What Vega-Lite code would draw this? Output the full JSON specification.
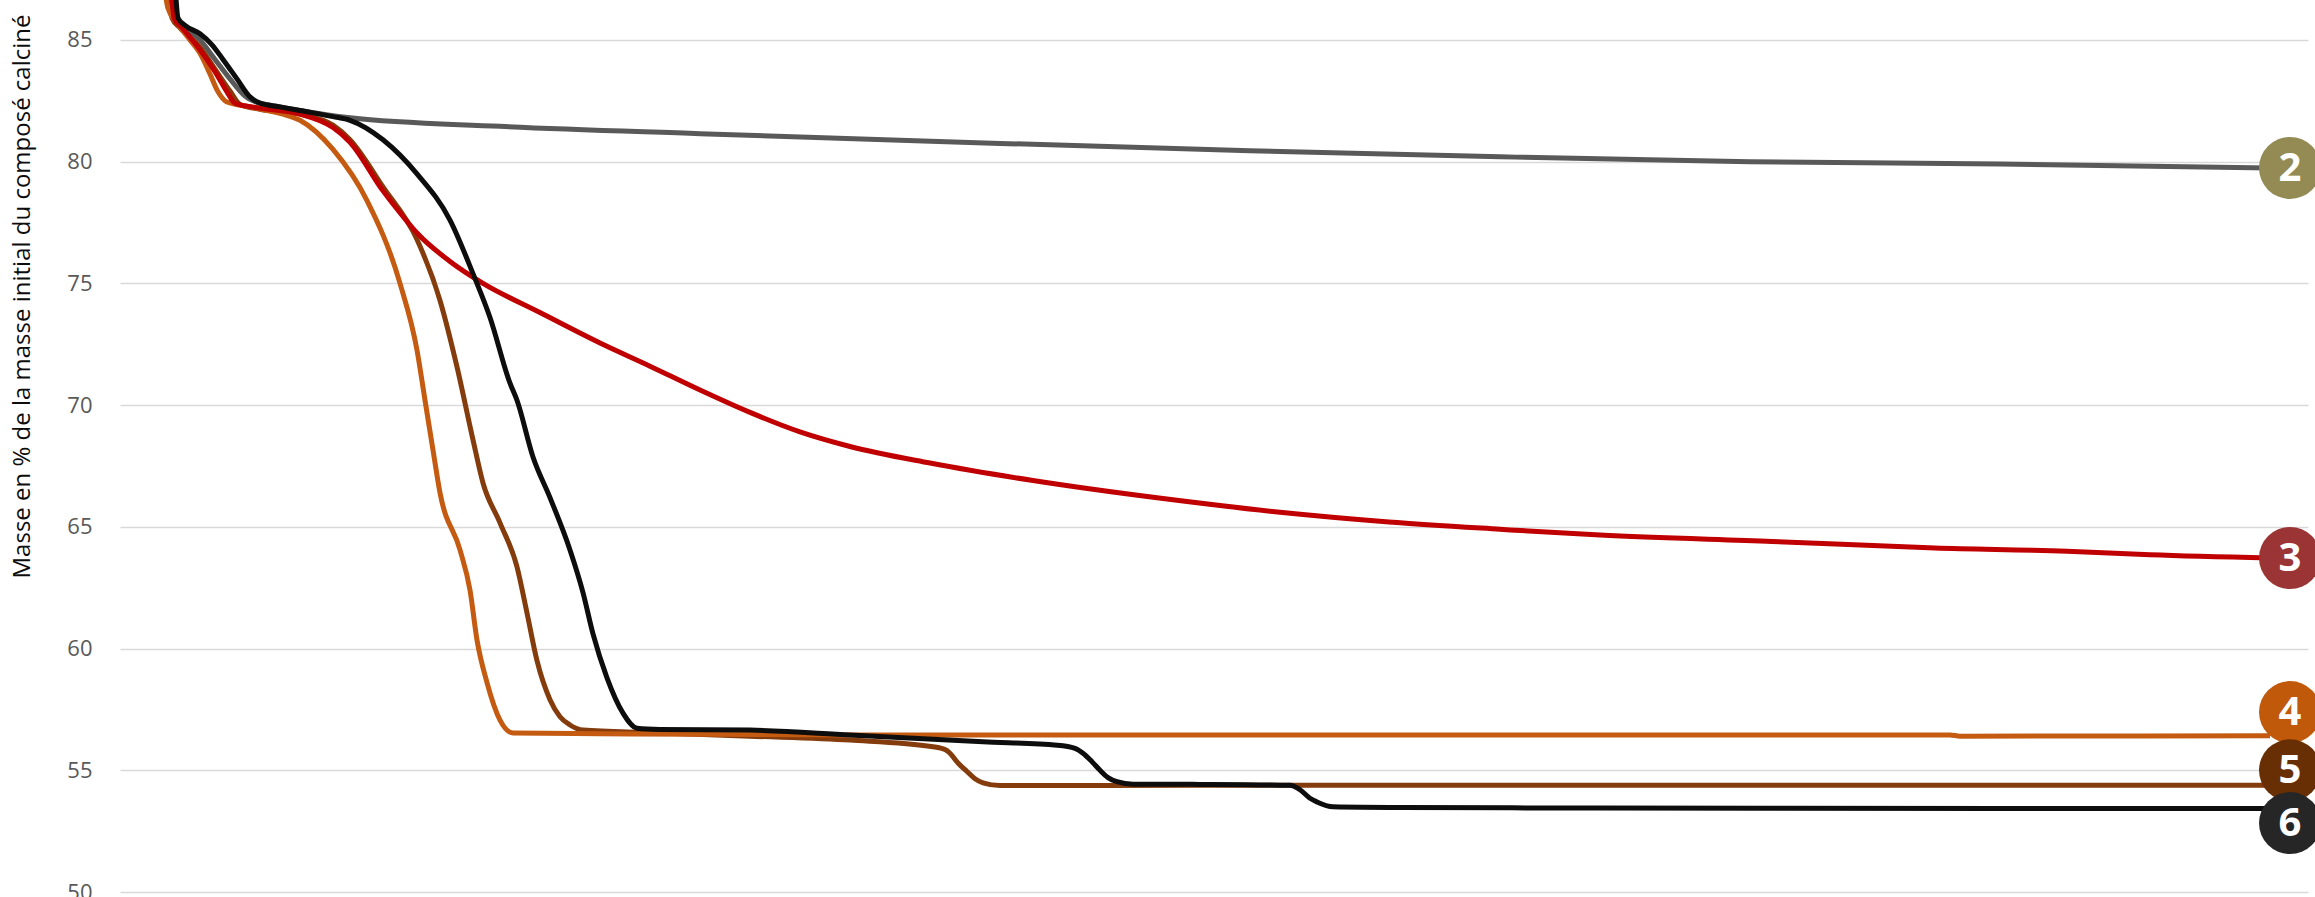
{
  "$schema": "https://vega.github.io/schema/vega-lite/v6.json",
  "autosize": "none",
  "width": 2188,
  "height": 892,
  "padding": {"left": 120, "top": 0, "right": 7, "bottom": 5},
  "background": "white",
  "config": {"view": {"stroke": null}},
  "datasets": {
    "curves": [
      {"s": "2", "x": 54, "y": 86.7}, {"s": "2", "x": 56, "y": 85.9}, {"s": "2", "x": 63, "y": 85.6}, {"s": "2", "x": 80, "y": 85.0}, {"s": "2", "x": 95, "y": 84.2}, {"s": "2", "x": 110, "y": 83.4}, {"s": "2", "x": 125, "y": 82.7}, {"s": "2", "x": 133, "y": 82.5}, {"s": "2", "x": 160, "y": 82.25}, {"s": "2", "x": 180, "y": 82.1}, {"s": "2", "x": 230, "y": 81.8}, {"s": "2", "x": 380, "y": 81.45}, {"s": "2", "x": 580, "y": 81.15}, {"s": "2", "x": 880, "y": 80.75}, {"s": "2", "x": 1130, "y": 80.45}, {"s": "2", "x": 1380, "y": 80.2}, {"s": "2", "x": 1630, "y": 80.0}, {"s": "2", "x": 1880, "y": 79.9}, {"s": "2", "x": 2150, "y": 79.74},

      {"s": "3", "x": 52, "y": 86.7}, {"s": "3", "x": 54, "y": 85.9}, {"s": "3", "x": 62, "y": 85.5}, {"s": "3", "x": 80, "y": 84.6}, {"s": "3", "x": 95, "y": 83.7}, {"s": "3", "x": 108, "y": 82.8}, {"s": "3", "x": 115, "y": 82.4}, {"s": "3", "x": 140, "y": 82.2}, {"s": "3", "x": 180, "y": 81.95}, {"s": "3", "x": 213, "y": 81.4}, {"s": "3", "x": 230, "y": 80.8}, {"s": "3", "x": 263, "y": 78.8}, {"s": "3", "x": 280, "y": 77.9}, {"s": "3", "x": 297, "y": 77.07}, {"s": "3", "x": 330, "y": 75.9}, {"s": "3", "x": 363, "y": 75.0}, {"s": "3", "x": 420, "y": 73.8}, {"s": "3", "x": 480, "y": 72.55}, {"s": "3", "x": 530, "y": 71.6}, {"s": "3", "x": 580, "y": 70.62}, {"s": "3", "x": 630, "y": 69.7}, {"s": "3", "x": 680, "y": 68.9}, {"s": "3", "x": 730, "y": 68.3}, {"s": "3", "x": 810, "y": 67.62}, {"s": "3", "x": 913, "y": 66.9}, {"s": "3", "x": 1039, "y": 66.18}, {"s": "3", "x": 1160, "y": 65.6}, {"s": "3", "x": 1269, "y": 65.2}, {"s": "3", "x": 1380, "y": 64.9}, {"s": "3", "x": 1480, "y": 64.66}, {"s": "3", "x": 1652, "y": 64.4}, {"s": "3", "x": 1815, "y": 64.13}, {"s": "3", "x": 1947, "y": 64.0}, {"s": "3", "x": 2030, "y": 63.85}, {"s": "3", "x": 2150, "y": 63.72},

      {"s": "4", "x": 46, "y": 86.7}, {"s": "4", "x": 48, "y": 86.3}, {"s": "4", "x": 57, "y": 85.7}, {"s": "4", "x": 70, "y": 85.0}, {"s": "4", "x": 80, "y": 84.45}, {"s": "4", "x": 90, "y": 83.6}, {"s": "4", "x": 97, "y": 82.95}, {"s": "4", "x": 107, "y": 82.45}, {"s": "4", "x": 130, "y": 82.25}, {"s": "4", "x": 163, "y": 81.95}, {"s": "4", "x": 180, "y": 81.7}, {"s": "4", "x": 213, "y": 80.5}, {"s": "4", "x": 247, "y": 78.4}, {"s": "4", "x": 280, "y": 75.0}, {"s": "4", "x": 297, "y": 72.26}, {"s": "4", "x": 305, "y": 70.2}, {"s": "4", "x": 313, "y": 68.15}, {"s": "4", "x": 320, "y": 66.4}, {"s": "4", "x": 340, "y": 64.05}, {"s": "4", "x": 350, "y": 62.4}, {"s": "4", "x": 357, "y": 60.35}, {"s": "4", "x": 367, "y": 58.6}, {"s": "4", "x": 380, "y": 57.06}, {"s": "4", "x": 393, "y": 56.53}, {"s": "4", "x": 480, "y": 56.5}, {"s": "4", "x": 730, "y": 56.45}, {"s": "4", "x": 1830, "y": 56.45}, {"s": "4", "x": 1840, "y": 56.4}, {"s": "4", "x": 2150, "y": 56.42},

      {"s": "5", "x": 50, "y": 86.7}, {"s": "5", "x": 52, "y": 85.9}, {"s": "5", "x": 60, "y": 85.5}, {"s": "5", "x": 80, "y": 84.7}, {"s": "5", "x": 95, "y": 83.8}, {"s": "5", "x": 110, "y": 82.9}, {"s": "5", "x": 120, "y": 82.35}, {"s": "5", "x": 140, "y": 82.15}, {"s": "5", "x": 180, "y": 81.95}, {"s": "5", "x": 213, "y": 81.5}, {"s": "5", "x": 230, "y": 80.9}, {"s": "5", "x": 263, "y": 78.96}, {"s": "5", "x": 297, "y": 76.8}, {"s": "5", "x": 320, "y": 74.3}, {"s": "5", "x": 337, "y": 71.57}, {"s": "5", "x": 353, "y": 68.57}, {"s": "5", "x": 363, "y": 66.8}, {"s": "5", "x": 380, "y": 65.16}, {"s": "5", "x": 397, "y": 63.35}, {"s": "5", "x": 407, "y": 61.46}, {"s": "5", "x": 417, "y": 59.5}, {"s": "5", "x": 430, "y": 57.9}, {"s": "5", "x": 440, "y": 57.2}, {"s": "5", "x": 450, "y": 56.86}, {"s": "5", "x": 463, "y": 56.65}, {"s": "5", "x": 530, "y": 56.55}, {"s": "5", "x": 630, "y": 56.4}, {"s": "5", "x": 730, "y": 56.24}, {"s": "5", "x": 813, "y": 55.97}, {"s": "5", "x": 825, "y": 55.85}, {"s": "5", "x": 830, "y": 55.7}, {"s": "5", "x": 838, "y": 55.3}, {"s": "5", "x": 847, "y": 54.95}, {"s": "5", "x": 855, "y": 54.65}, {"s": "5", "x": 863, "y": 54.48}, {"s": "5", "x": 880, "y": 54.37}, {"s": "5", "x": 1080, "y": 54.38}, {"s": "5", "x": 2150, "y": 54.38},

      {"s": "6", "x": 56, "y": 86.7}, {"s": "6", "x": 58, "y": 85.9}, {"s": "6", "x": 65, "y": 85.6}, {"s": "6", "x": 80, "y": 85.25}, {"s": "6", "x": 92, "y": 84.8}, {"s": "6", "x": 103, "y": 84.2}, {"s": "6", "x": 117, "y": 83.4}, {"s": "6", "x": 130, "y": 82.66}, {"s": "6", "x": 140, "y": 82.4}, {"s": "6", "x": 160, "y": 82.25}, {"s": "6", "x": 180, "y": 82.1}, {"s": "6", "x": 213, "y": 81.85}, {"s": "6", "x": 230, "y": 81.7}, {"s": "6", "x": 263, "y": 80.9}, {"s": "6", "x": 297, "y": 79.5}, {"s": "6", "x": 330, "y": 77.6}, {"s": "6", "x": 353, "y": 75.4}, {"s": "6", "x": 370, "y": 73.6}, {"s": "6", "x": 390, "y": 70.9}, {"s": "6", "x": 397, "y": 70.2}, {"s": "6", "x": 413, "y": 67.87}, {"s": "6", "x": 430, "y": 66.2}, {"s": "6", "x": 450, "y": 64.05}, {"s": "6", "x": 463, "y": 62.3}, {"s": "6", "x": 473, "y": 60.6}, {"s": "6", "x": 487, "y": 58.8}, {"s": "6", "x": 503, "y": 57.35}, {"s": "6", "x": 517, "y": 56.73}, {"s": "6", "x": 540, "y": 56.68}, {"s": "6", "x": 630, "y": 56.65}, {"s": "6", "x": 730, "y": 56.45}, {"s": "6", "x": 863, "y": 56.17}, {"s": "6", "x": 937, "y": 56.03}, {"s": "6", "x": 955, "y": 55.9}, {"s": "6", "x": 963, "y": 55.7}, {"s": "6", "x": 972, "y": 55.35}, {"s": "6", "x": 980, "y": 55.0}, {"s": "6", "x": 988, "y": 54.7}, {"s": "6", "x": 997, "y": 54.53}, {"s": "6", "x": 1013, "y": 54.43}, {"s": "6", "x": 1080, "y": 54.42}, {"s": "6", "x": 1170, "y": 54.38}, {"s": "6", "x": 1180, "y": 54.2}, {"s": "6", "x": 1190, "y": 53.85}, {"s": "6", "x": 1197, "y": 53.7}, {"s": "6", "x": 1213, "y": 53.5}, {"s": "6", "x": 1280, "y": 53.47}, {"s": "6", "x": 1480, "y": 53.45}, {"s": "6", "x": 1880, "y": 53.43}, {"s": "6", "x": 2150, "y": 53.43}
    ],
    "labels": [
      {"s": "2", "x": 2170, "y": 79.74},
      {"s": "3", "x": 2170, "y": 63.72},
      {"s": "4", "x": 2170, "y": 57.39},
      {"s": "5", "x": 2170, "y": 55.0},
      {"s": "6", "x": 2170, "y": 52.83}
    ]
  },
  "encoding": {
    "x": {"field": "x", "type": "quantitative", "scale": {"domain": [0, 2188], "nice": false, "zero": false}, "axis": null},
    "y": {
      "field": "y", "type": "quantitative",
      "scale": {"domain": [50, 86.64], "nice": false, "zero": false},
      "axis": {
        "values": [50, 55, 60, 65, 70, 75, 80, 85],
        "grid": true, "gridColor": "#D9D9D9", "gridWidth": 1.5,
        "domain": false, "ticks": false,
        "labelFont": "Open Sans", "labelFontSize": 22, "labelColor": "#595959", "labelPadding": 28,
        "title": "Masse en % de la masse initial du composé calciné",
        "titleFont": "Liberation Sans Narrow, Open Sans", "titleFontSize": 24, "titleFontWeight": "normal", "titleColor": "#0d0d0d",
        "titleAngle": 270, "titleAlign": "center", "titleBaseline": "middle",
        "titleX": -98, "titleY": 296
      }
    }
  },
  "layer": [
    {"data": {"name": "curves"}, "transform": [{"filter": "datum.s == '2'"}], "mark": {"type": "line", "color": "#595959", "strokeWidth": 5, "clip": true, "interpolate": "monotone"}},
    {"data": {"name": "curves"}, "transform": [{"filter": "datum.s == '5'"}], "mark": {"type": "line", "color": "#843C0C", "strokeWidth": 5, "clip": true, "interpolate": "monotone"}},
    {"data": {"name": "curves"}, "transform": [{"filter": "datum.s == '4'"}], "mark": {"type": "line", "color": "#C55A11", "strokeWidth": 5, "clip": true, "interpolate": "monotone"}},
    {"data": {"name": "curves"}, "transform": [{"filter": "datum.s == '3'"}], "mark": {"type": "line", "color": "#C00000", "strokeWidth": 5, "clip": true, "interpolate": "monotone"}},
    {"data": {"name": "curves"}, "transform": [{"filter": "datum.s == '6'"}], "mark": {"type": "line", "color": "#0D0D0D", "strokeWidth": 5, "clip": true, "interpolate": "monotone"}},
    {
      "data": {"name": "labels"},
      "mark": {"type": "point", "shape": "circle", "filled": true, "opacity": 1, "size": 3844, "clip": false},
      "encoding": {
        "color": {"field": "s", "type": "nominal", "legend": null,
          "scale": {"domain": ["2", "3", "4", "5", "6"], "range": ["#938A54", "#9B3535", "#C05A0A", "#682F04", "#262626"]}}
      }
    },
    {
      "data": {"name": "labels"},
      "mark": {"type": "text", "color": "white", "font": "Open Sans", "fontWeight": "bold", "fontSize": 40, "align": "center", "baseline": "middle", "dy": 1, "clip": false},
      "encoding": {"text": {"field": "s", "type": "nominal"}}
    }
  ]
}
